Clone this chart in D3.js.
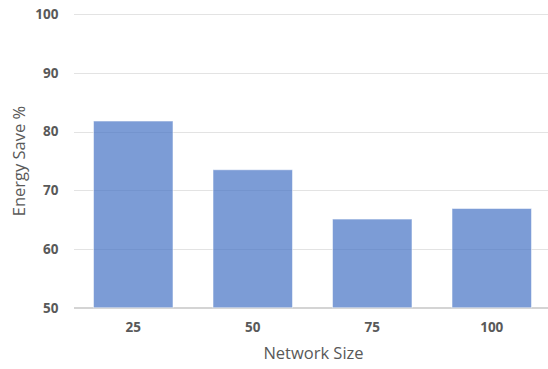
<!DOCTYPE html>
<html>
<head>
<meta charset="utf-8">
<script src="https://cdn.jsdelivr.net/npm/d3@7"></script>
<style>
  html, body { margin: 0; padding: 0; background: #fff; }
  svg { display: block; font-family: "Open Sans", "Noto Sans", sans-serif; }
</style>
</head>
<body>
<svg id="chart" width="548" height="369"></svg>
<script>
// Network sizes and the energy saving measured for each
const categories = ["25", "50", "75", "100"];
const energySave = [81.8, 73.5, 65.1, 66.9];
const yTicks = [50, 60, 70, 80, 90, 100];

const svg = d3.select("#chart");
const W = 548, H = 369;
const margin = { left: 73.5, right: -3.5, top: 14.2, bottom: 61.3 };

const x = d3.scaleBand()
  .domain(categories)
  .range([margin.left, W - margin.right])
  .paddingInner(0.335)
  .paddingOuter(0.1675);

const y = d3.scaleLinear()
  .domain([50, 100])
  .range([H - margin.bottom, margin.top]);

// Horizontal gridlines
const grid = svg.append("g")
  .attr("transform", `translate(${margin.left},0)`)
  .call(d3.axisLeft(y).tickValues(yTicks).tickSize(-(W - margin.left)).tickFormat(""));
grid.select(".domain").remove();
grid.selectAll(".tick line")
  .attr("stroke", "#e3e3e3")
  .attr("stroke-width", 1.2)
  .attr("shape-rendering", "crispEdges");
grid.selectAll(".tick").filter(d => d === 50).select("line")
  .attr("stroke", "#d4d4d4").attr("stroke-width", 1.6);

// Bars (semi-transparent so the gridlines show through)
svg.append("g")
  .selectAll("rect")
  .data(categories.map((c, i) => ({ c, v: energySave[i] })))
  .join("rect")
  .attr("x", d => x(d.c))
  .attr("width", x.bandwidth())
  .attr("y", d => y(d.v))
  .attr("height", d => y(50) - y(d.v))
  .attr("fill", "#4472c4")
  .attr("fill-opacity", 0.7)
  .attr("stroke", "#ffffff")
  .attr("stroke-opacity", 0.5)
  .attr("stroke-width", 1);

// Y axis labels
const yAxis = svg.append("g")
  .attr("transform", `translate(${margin.left},0)`)
  .call(d3.axisLeft(y).tickValues(yTicks).tickSize(0).tickPadding(15));
yAxis.select(".domain").remove();
yAxis.selectAll("text")
  .attr("font-size", 13.5)
  .attr("font-weight", "bold")
  .attr("fill", "#595959")
  .attr("font-family", "'Open Sans', sans-serif");

// X axis labels
const xAxis = svg.append("g")
  .attr("transform", `translate(0,${H - margin.bottom})`)
  .call(d3.axisBottom(x).tickSize(0).tickPadding(15));
xAxis.select(".domain").remove();
xAxis.selectAll("text")
  .attr("font-size", 13.5)
  .attr("font-weight", "bold")
  .attr("fill", "#595959")
  .attr("font-family", "'Open Sans', sans-serif");

// Axis titles
svg.append("text")
  .attr("x", 313.5)
  .attr("y", 359)
  .attr("text-anchor", "middle")
  .attr("font-size", 16.5)
  .attr("fill", "#595959")
  .text("Network Size");

svg.append("text")
  .attr("transform", "translate(25,161) rotate(-90)")
  .attr("text-anchor", "middle")
  .attr("font-size", 16.5)
  .attr("fill", "#595959")
  .text("Energy Save %");
</script>
</body>
</html>
